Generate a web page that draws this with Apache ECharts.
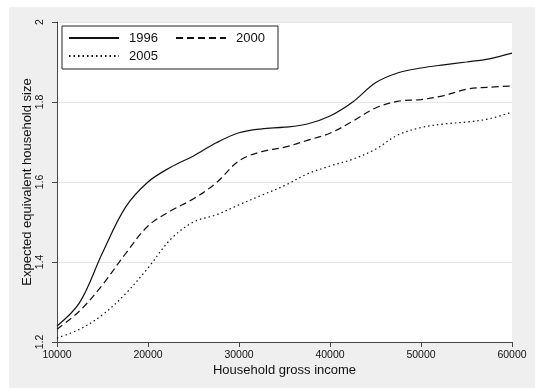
<!DOCTYPE html>
<html>
<head>
<meta charset="utf-8">
<script src="https://cdn.jsdelivr.net/npm/echarts@6/dist/echarts.min.js"></script>
<style>
html,body{margin:0;padding:0;background:#fff;}
#c{width:535px;height:390px;}
</style>
</head>
<body>
<div id="c"></div>
<script>
const incomes = [10000,12500,15000,17500,20000,22500,25000,27500,30000,32500,35000,37500,40000,42500,45000,47500,50000,52500,55000,57500,60000];
const y1996 = [1.240,1.299,1.423,1.536,1.600,1.637,1.665,1.698,1.723,1.733,1.737,1.745,1.765,1.800,1.848,1.873,1.885,1.893,1.900,1.908,1.922];
const y2000 = [1.232,1.278,1.343,1.420,1.490,1.528,1.558,1.598,1.653,1.676,1.687,1.704,1.722,1.752,1.785,1.802,1.806,1.816,1.832,1.837,1.840];
const y2005 = [1.210,1.232,1.268,1.320,1.385,1.457,1.500,1.518,1.543,1.567,1.591,1.620,1.640,1.657,1.682,1.718,1.736,1.745,1.750,1.758,1.775];
const seriesNames = ['1996','2000','2005'];
const xTicks = [10000,20000,30000,40000,50000,60000];
const yTicks = [1.2,1.4,1.6,1.8,2];

const font = 'Liberation Sans, Arial, sans-serif';
function pairs(ys){ return incomes.map((x,i)=>[x,ys[i]]); }
const dashes = [null,[7,4],[1.5,3]];
const allY = [y1996,y2000,y2005];

const chart = echarts.init(document.getElementById('c'), null, {renderer:'canvas'});
chart.setOption({
  animation:false,
  backgroundColor:'#ffffff',
  graphic:[{type:'rect', z:-10, silent:true, shape:{x:9,y:7,width:526,height:381}, style:{fill:'#efefef'}}],
  grid:{left:57, top:22, width:455, height:320, show:true, backgroundColor:'#ffffff', borderWidth:0, containLabel:false},
  legend:{
    data:seriesNames, left:62, top:26, width:213, orient:'horizontal',
    itemWidth:50, itemHeight:14, itemGap:4,
    padding:[5,0,6,6], borderColor:'#222', borderWidth:1, backgroundColor:'#fff',
    itemStyle:{opacity:0},
    textStyle:{fontFamily:font, fontSize:13, color:'#111', width:42, lineHeight:14, padding:[0,0,0,5]}
  },
  xAxis:{
    type:'value', min:xTicks[0], max:xTicks[xTicks.length-1], interval:10000,
    name:'Household gross income', nameLocation:'middle', nameGap:22, nameMoveOverlap:false,
    nameTextStyle:{fontFamily:font, fontSize:13, color:'#111'},
    axisLine:{show:true, lineStyle:{color:'#444', width:1}},
    axisTick:{show:true, length:5, lineStyle:{color:'#444'}},
    axisLabel:{fontFamily:font, fontSize:10.5, color:'#111', margin:8, formatter:v=>String(v)},
    splitLine:{show:false}
  },
  yAxis:{
    type:'value', min:yTicks[0], max:yTicks[yTicks.length-1], interval:0.2,
    name:'Expected equivalent household size', nameLocation:'middle', nameGap:23, nameRotate:90, nameMoveOverlap:false,
    nameTextStyle:{fontFamily:font, fontSize:13, color:'#111'},
    axisLine:{show:true, lineStyle:{color:'#444', width:1}},
    axisTick:{show:true, length:5, lineStyle:{color:'#444'}},
    axisLabel:{fontFamily:font, fontSize:10.5, color:'#111', margin:11, rotate:90, formatter:v=>String(Math.round(v*10)/10)},
    splitLine:{show:true, lineStyle:{color:'#e6e6e6', width:1}}
  },
  series: seriesNames.map((n,i)=>({
    name:n, type:'line', data:pairs(allY[i]), smooth:0.35, showSymbol:false, symbol:'none',
    lineStyle:{color:'#111', width:1.2, type: dashes[i] || 'solid'},
    itemStyle:{color:'#111'}
  }))
});
</script>
</body>
</html>
